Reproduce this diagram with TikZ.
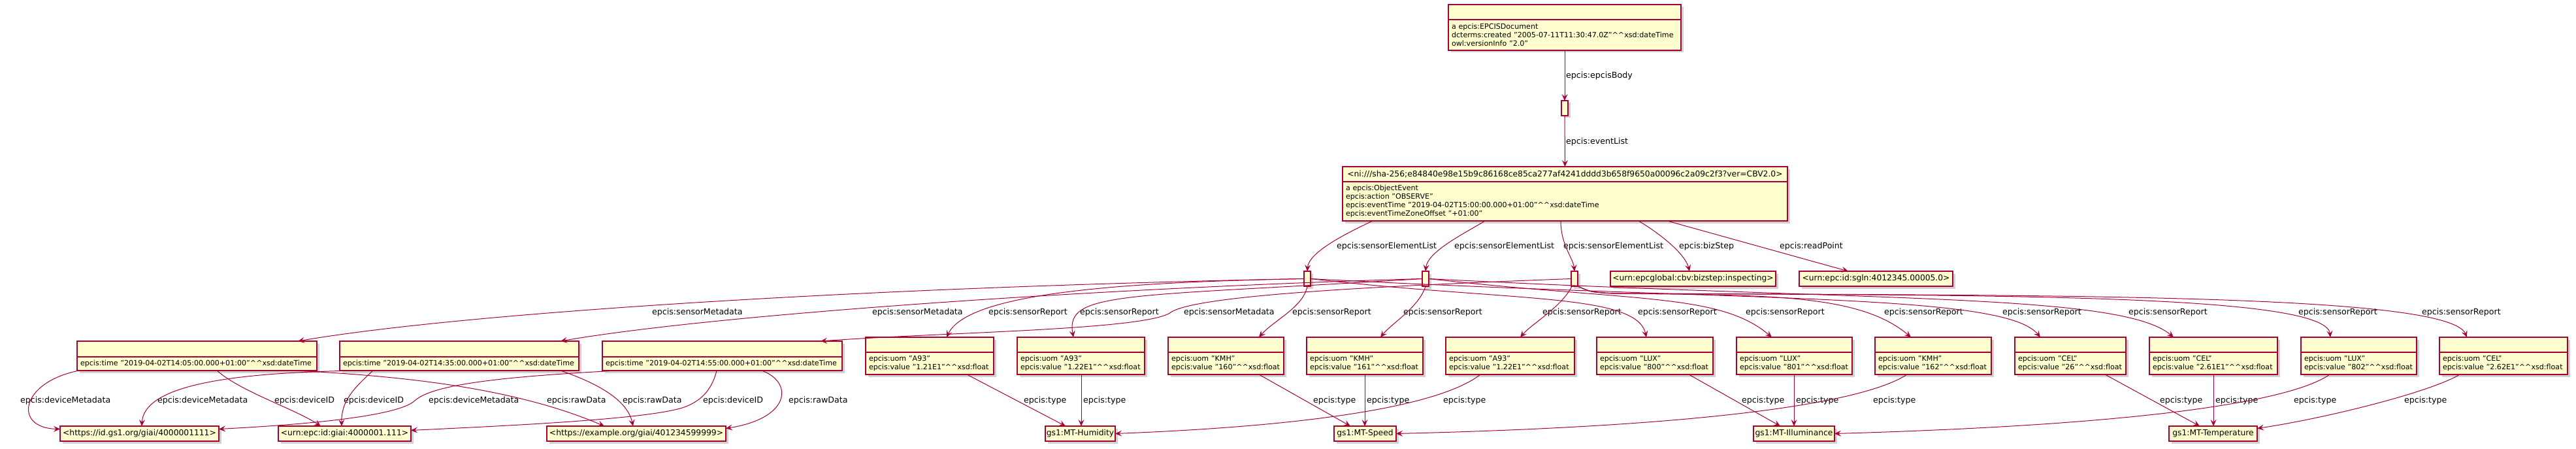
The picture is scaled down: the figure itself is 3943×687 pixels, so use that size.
\documentclass[tikz,border=0pt]{standalone}
\usepackage{fontspec}
\setmainfont{DejaVu Sans}
\usetikzlibrary{positioning,shadows,arrows.meta}
\definecolor{ink}{HTML}{A80036}
\definecolor{paper}{HTML}{FEFECE}
\newcommand\xsd{\textasciicircum\textasciicircum xsd:}
\newcommand\namefont{\fontsize{12.3}{14}\selectfont}
\newcommand\bodyfont{\fontsize{11.1}{12.8}\selectfont}
\newcommand\lblfont{\fontsize{12.6}{14}\selectfont}
\tikzset{
  box/.style={draw=ink,fill=paper,line width=1.2pt,inner sep=0pt,outer sep=0pt,
    drop shadow={shadow xshift=3.5pt,shadow yshift=-3.5pt,fill=black,opacity=.18}},
  hd/.style={box,minimum height=23pt,anchor=north west},
  bd/.style={box,inner xsep=5pt,align=left,font=\bodyfont},
  uri/.style={box,minimum height=23pt,anchor=north west,font=\namefont},
  bn/.style={box,minimum width=10pt,minimum height=23pt,anchor=north west},
  ed/.style={draw=ink,line width=1pt,->},
  lb/.style={anchor=west,inner sep=0pt,font=\lblfont}
}
\begin{document}
\begin{tikzpicture}[x=1pt,y=-1pt,>={Stealth[length=10pt,width=9pt,inset=4pt]}]
\useasboundingbox (0,0) rectangle (3943,687);
% document, list, event
\node[hd,minimum width=356pt] (doc) at (2217,7) {};
\node[bd,text width=346pt,minimum height=47pt,below=0pt of doc] (docb) {a~epcis:EPCISDocument\\dcterms:created~"2005-07-11T11:30:47.0Z"\xsd dateTime\\owl:versionInfo~"2.0"};
\node[bn] (lst) at (2390,154) {};
\node[hd,minimum width=681pt,font=\namefont] (evt) at (2055,255) {<ni:///sha-256;e84840e98e15b9c86168ce85ca277af4241dddd3b658f9650a00096c2a09c2f3?ver=CBV2.0>};
\node[bd,text width=671pt,minimum height=60pt,below=0pt of evt] (evtb) {a~epcis:ObjectEvent\\epcis:action~"OBSERVE"\\epcis:eventTime~"2019-04-02T15:00:00.000+01:00"\xsd dateTime\\epcis:eventTimeZoneOffset~"+01:00"};
\node[bn] (se1) at (1996,415) {};
\node[bn] (se2) at (2177,415) {};
\node[bn] (se3) at (2405,415) {};
\node[uri,minimum width=253pt] (bs) at (2465,415) {<urn:epcglobal:cbv:bizstep:inspecting>};
\node[uri,minimum width=235pt] (rp) at (2754,415) {<urn:epc:id:sgln:4012345.00005.0>};
% sensor metadata
\node[hd,minimum width=367pt,minimum height=24pt] (md1) at (118,522) {};
\node[bd,text width=357pt,minimum height=21pt,below=0pt of md1] (md1b) {epcis:time~"2019-04-02T14:05:00.000+01:00"\xsd dateTime};
\node[hd,minimum width=366pt,minimum height=24pt] (md2) at (520,522) {};
\node[bd,text width=356pt,minimum height=21pt,below=0pt of md2] (md2b) {epcis:time~"2019-04-02T14:35:00.000+01:00"\xsd dateTime};
\node[hd,minimum width=367pt,minimum height=24pt] (md3) at (922,522) {};
\node[bd,text width=357pt,minimum height=21pt,below=0pt of md3] (md3b) {epcis:time~"2019-04-02T14:55:00.000+01:00"\xsd dateTime};
% sensor reports
\node[hd,minimum width=196pt] (sr1) at (1325,516) {};
\node[bd,text width=186pt,minimum height=34pt,below=0pt of sr1] (sr1b) {epcis:uom~"A93"\\epcis:value~"1.21E1"\xsd float};
\node[hd,minimum width=195pt] (sr2) at (1557,516) {};
\node[bd,text width=185pt,minimum height=34pt,below=0pt of sr2] (sr2b) {epcis:uom~"A93"\\epcis:value~"1.22E1"\xsd float};
\node[hd,minimum width=177pt] (sr3) at (1788,516) {};
\node[bd,text width=167pt,minimum height=34pt,below=0pt of sr3] (sr3b) {epcis:uom~"KMH"\\epcis:value~"160"\xsd float};
\node[hd,minimum width=178pt] (sr4) at (2000,516) {};
\node[bd,text width=168pt,minimum height=34pt,below=0pt of sr4] (sr4b) {epcis:uom~"KMH"\\epcis:value~"161"\xsd float};
\node[hd,minimum width=197pt] (sr5) at (2213,516) {};
\node[bd,text width=187pt,minimum height=34pt,below=0pt of sr5] (sr5b) {epcis:uom~"A93"\\epcis:value~"1.22E1"\xsd float};
\node[hd,minimum width=178pt] (sr6) at (2444,516) {};
\node[bd,text width=168pt,minimum height=34pt,below=0pt of sr6] (sr6b) {epcis:uom~"LUX"\\epcis:value~"800"\xsd float};
\node[hd,minimum width=177pt] (sr7) at (2658,516) {};
\node[bd,text width=167pt,minimum height=34pt,below=0pt of sr7] (sr7b) {epcis:uom~"LUX"\\epcis:value~"801"\xsd float};
\node[hd,minimum width=178pt] (sr8) at (2870,516) {};
\node[bd,text width=168pt,minimum height=34pt,below=0pt of sr8] (sr8b) {epcis:uom~"KMH"\\epcis:value~"162"\xsd float};
\node[hd,minimum width=170pt] (sr9) at (3084,516) {};
\node[bd,text width=160pt,minimum height=34pt,below=0pt of sr9] (sr9b) {epcis:uom~"CEL"\\epcis:value~"26"\xsd float};
\node[hd,minimum width=196pt] (sr10) at (3290,516) {};
\node[bd,text width=186pt,minimum height=34pt,below=0pt of sr10] (sr10b) {epcis:uom~"CEL"\\epcis:value~"2.61E1"\xsd float};
\node[hd,minimum width=177pt] (sr11) at (3522,516) {};
\node[bd,text width=167pt,minimum height=34pt,below=0pt of sr11] (sr11b) {epcis:uom~"LUX"\\epcis:value~"802"\xsd float};
\node[hd,minimum width=196pt] (sr12) at (3734,516) {};
\node[bd,text width=186pt,minimum height=34pt,below=0pt of sr12] (sr12b) {epcis:uom~"CEL"\\epcis:value~"2.62E1"\xsd float};
% bottom row
\node[uri,minimum width=243pt] (dm) at (92,652) {<https://id.gs1.org/giai/4000001111>};
\node[uri,minimum width=203pt] (did) at (426,652) {<urn:epc:id:giai:4000001.111>};
\node[uri,minimum width=274pt] (raw) at (837,652) {<https://example.org/giai/401234599999>};
\node[uri,minimum width=107pt] (hum) at (1600,652) {gs1:MT-Humidity};
\node[uri,minimum width=95pt] (spd) at (2042,652) {gs1:MT-Speed};
\node[uri,minimum width=124pt] (ill) at (2684,652) {gs1:MT-Illuminance};
\node[uri,minimum width=135pt] (tmp) at (3320,652) {gs1:MT-Temperature};
% labels
\node[lb] (t1) at (2397,116) {epcis:epcisBody};
\node[lb] (t2) at (2397,217) {epcis:eventList};
\node[lb] (t3) at (2046,377) {epcis:sensorElementList};
\node[lb] (t4) at (2226,377) {epcis:sensorElementList};
\node[lb] (t5) at (2393,377) {epcis:sensorElementList};
\node[lb] (t6) at (2570,377) {epcis:bizStep};
\node[lb] (t7) at (2724,377) {epcis:readPoint};
\node[lb] (u1) at (998,478) {epcis:sensorMetadata};
\node[lb] (u2) at (1335,478) {epcis:sensorMetadata};
\node[lb] (u3) at (1812,478) {epcis:sensorMetadata};
\node[lb] (u4) at (1513,478) {epcis:sensorReport};
\node[lb] (u5) at (1653,478) {epcis:sensorReport};
\node[lb] (u6) at (1978,478) {epcis:sensorReport};
\node[lb] (u7) at (2148,478) {epcis:sensorReport};
\node[lb] (u8) at (2361,478) {epcis:sensorReport};
\node[lb] (u9) at (2507,478) {epcis:sensorReport};
\node[lb] (u10) at (2672,478) {epcis:sensorReport};
\node[lb] (u11) at (2884,478) {epcis:sensorReport};
\node[lb] (u12) at (3065,478) {epcis:sensorReport};
\node[lb] (u13) at (3258,478) {epcis:sensorReport};
\node[lb] (u14) at (3518,478) {epcis:sensorReport};
\node[lb] (u15) at (3707,478) {epcis:sensorReport};
\node[lb] (v1) at (31,613) {epcis:deviceMetadata};
\node[lb] (v2) at (241,613) {epcis:deviceMetadata};
\node[lb] (v3) at (656,613) {epcis:deviceMetadata};
\node[lb] (v4) at (420,613) {epcis:deviceID};
\node[lb] (v5) at (526,613) {epcis:deviceID};
\node[lb] (v6) at (1076,613) {epcis:deviceID};
\node[lb] (v7) at (837,613) {epcis:rawData};
\node[lb] (v8) at (953,613) {epcis:rawData};
\node[lb] (v9) at (1207,613) {epcis:rawData};
\node[lb] (w1) at (1567,613) {epcis:type};
\node[lb] (w2) at (1658,613) {epcis:type};
\node[lb] (w3) at (2010,613) {epcis:type};
\node[lb] (w4) at (2092,613) {epcis:type};
\node[lb] (w5) at (2209,613) {epcis:type};
\node[lb] (w6) at (2666,613) {epcis:type};
\node[lb] (w7) at (2749,613) {epcis:type};
\node[lb] (w8) at (2867,613) {epcis:type};
\node[lb] (w9) at (3306,613) {epcis:type};
\node[lb] (w10) at (3391,613) {epcis:type};
\node[lb] (w11) at (3511,613) {epcis:type};
\node[lb] (w12) at (3680,613) {epcis:type};
% document to event
\draw[ed] (docb) -- (lst);
\draw[ed] (lst) -- (evt);
\draw[ed] ([xshift=46pt]evtb.south west) .. controls (2065,355) and (2003,385) .. (se1.north);
\draw[ed] ([xshift=218pt]evtb.south west) .. controls (2240,358) and (2185,385) .. (se2.north);
\draw[ed] ([xshift=334pt]evtb.south west) .. controls (2389,375) and (2408,395) .. (se3.north);
\draw[ed] ([xshift=453pt]evtb.south west) .. controls (2545,360) and (2580,390) .. ([xshift=121pt]bs.north west);
\draw[ed] ([xshift=497pt]evtb.south west) -- ([xshift=75pt]rp.north west);
% sensor elements
\draw[ed] (se1.west) .. controls (1300,440) and (700,480) .. ([xshift=338pt]md1.north west);
\draw[ed] (se2.west) .. controls (1700,440) and (1100,480) .. ([xshift=338pt]md2.north west);
\draw[ed] (se3.west) .. controls (2100,438) and (1830,452) .. (1792,478) .. controls (1755,505) and (1450,508) .. ([xshift=334pt]md3.north west);
\draw[ed] (se1.west) .. controls (1700,432) and (1480,450) .. ([xshift=124pt]sr1.north west);
\draw[ed] (se2.west) .. controls (1720,455) and (1630,445) .. ([xshift=86pt]sr2.north west);
\draw[ed] (se1.south) .. controls (1995,470) and (1950,490) .. ([xshift=139pt]sr3.north west);
\draw[ed] (se2.south) .. controls (2172,470) and (2130,495) .. ([xshift=113pt]sr4.north west);
\draw[ed] ([xshift=-4pt]se3.south) .. controls (2390,470) and (2345,495) .. ([xshift=114pt]sr5.north west);
\draw[ed] (se1.east) .. controls (2314,462) and (2505,448) .. ([xshift=76pt]sr6.north west);
\draw[ed] (se2.east) .. controls (2502,462) and (2632,448) .. ([xshift=54pt]sr7.north west);
\draw[ed] (se1.east) .. controls (2676,462) and (3068,448) .. ([xshift=39pt]sr9.north west);
\draw[ed] (se2.east) .. controls (2871,462) and (3246,448) .. ([xshift=37pt]sr10.north west);
\draw[ed] (se3.south east) .. controls (2435,447) .. (2470,449) .. controls (2698,452) and (2845,448) .. ([xshift=55pt]sr8.north west);
\draw[ed] (se3.south east) .. controls (2435,447) .. (2470,449) .. controls (3018,452) and (3560,448) .. ([xshift=45pt]sr11.north west);
\draw[ed] (se3.south east) .. controls (2435,447) .. (2470,449) .. controls (3123,452) and (3748,448) .. ([xshift=42pt]sr12.north west);
% metadata targets
\draw[ed] ([xshift=3pt]md1b.south west) .. controls (30,585) and (20,655) .. ([yshift=7pt]dm.west);
\draw[ed] ([xshift=214pt]md1b.south west) .. controls (370,600) and (450,625) .. ([xshift=65pt]did.north west);
\draw[ed] ([xshift=335pt]md1b.south west) .. controls (600,575) and (780,590) .. ([xshift=88pt]raw.north west);
\draw[ed] ([xshift=28pt]md2b.south west) .. controls (350,570) and (220,590) .. ([xshift=125pt]dm.north west);
\draw[ed] ([xshift=51pt]md2b.south west) .. controls (540,595) and (522,615) .. ([xshift=97pt]did.north west);
\draw[ed] ([xshift=338pt]md2b.south west) .. controls (910,585) and (960,610) .. ([xshift=132pt]raw.north west);
\draw[ed] ([xshift=22pt]md3b.south west) .. controls (800,575) and (665,585) .. (635,613) .. controls (605,641) and (420,652) .. ([yshift=7pt]dm.east);
\draw[ed] ([xshift=175pt]md3b.south west) .. controls (1090,595) and (1075,612) .. (1050,622) .. controls (1000,642) and (760,652) .. ([yshift=5pt]did.east);
\draw[ed] ([xshift=244pt]md3b.south west) .. controls (1215,585) and (1210,640) .. ([yshift=8pt]raw.east);
% report types
\draw[ed] ([xshift=155pt]sr1b.south west) -- ([xshift=31pt]hum.north west);
\draw[ed] ([xshift=98pt]sr2b.south west) -- ([xshift=55pt]hum.north west);
\draw[ed] ([xshift=53pt]sr5b.south west) .. controls (2225,605) and (2100,648) .. (hum.east);
\draw[ed] ([xshift=139pt]sr3b.south west) -- ([xshift=25pt]spd.north west);
\draw[ed] ([xshift=89pt]sr4b.south west) -- ([xshift=47pt]spd.north west);
\draw[ed] ([xshift=49pt]sr8b.south west) .. controls (2870,605) and (2700,650) .. (spd.east);
\draw[ed] ([xshift=141pt]sr6b.south west) -- ([xshift=41pt]ill.north west);
\draw[ed] ([xshift=88pt]sr7b.south west) -- ([xshift=62pt]ill.north west);
\draw[ed] ([xshift=44pt]sr11b.south west) .. controls (3520,605) and (3350,648) .. (ill.east);
\draw[ed] ([xshift=138pt]sr9b.south west) -- ([xshift=47pt]tmp.north west);
\draw[ed] ([xshift=98pt]sr10b.south west) -- ([xshift=68pt]tmp.north west);
\draw[ed] ([xshift=31pt]sr12b.south west) .. controls (3720,600) and (3560,640) .. ([yshift=8pt]tmp.east);
\end{tikzpicture}
\end{document}
